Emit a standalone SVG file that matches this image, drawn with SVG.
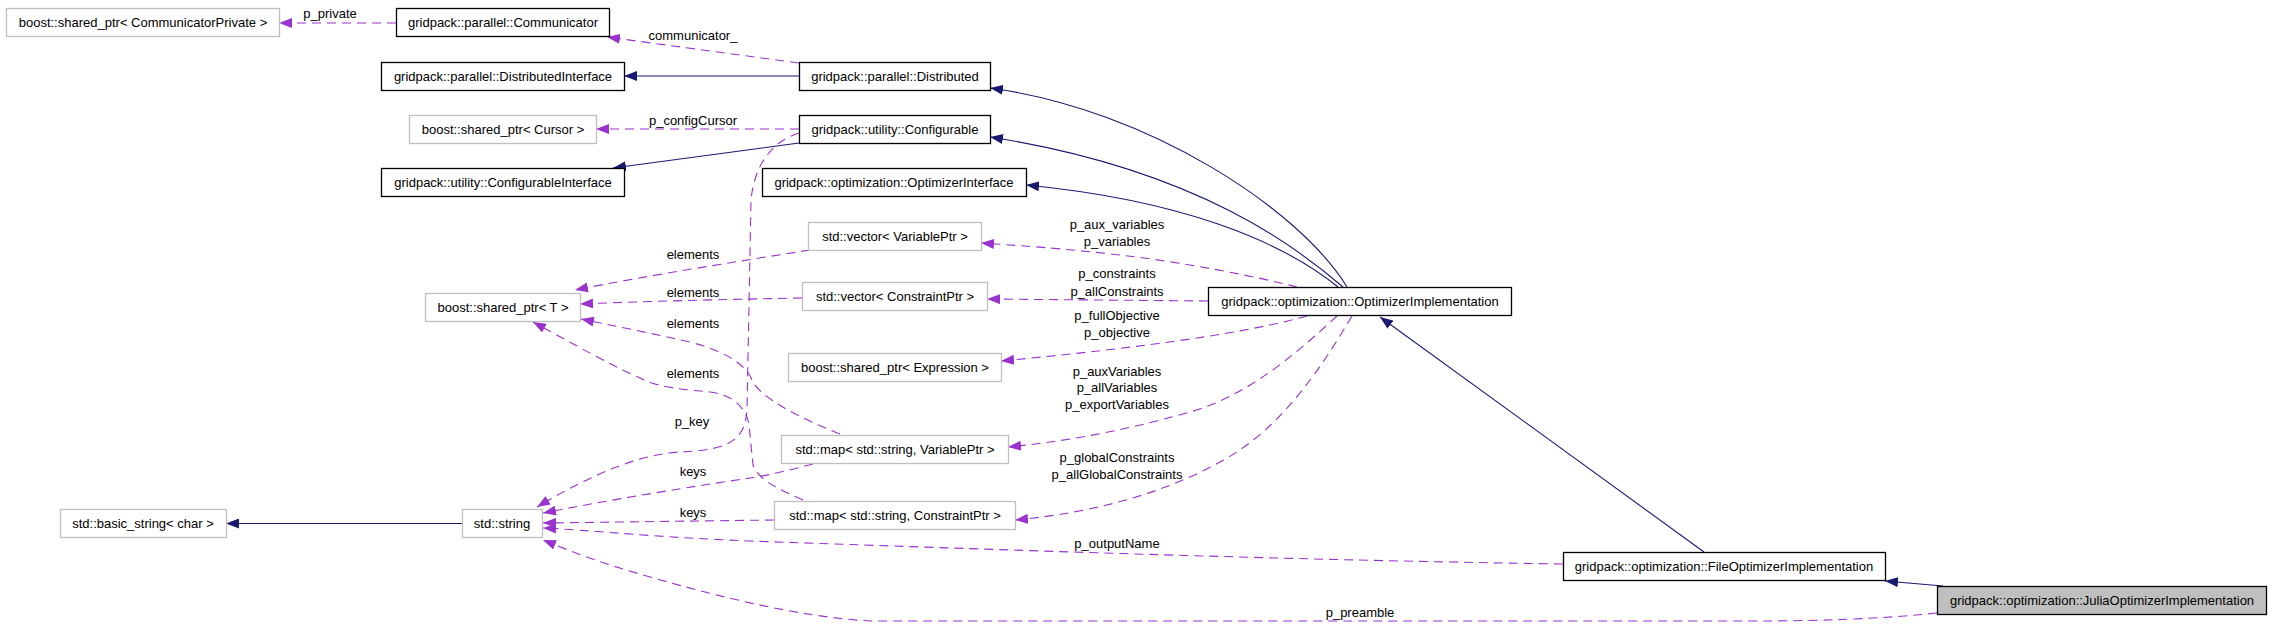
<svg xmlns="http://www.w3.org/2000/svg" width="2272" height="627" viewBox="0 0 2272 627">
<defs>
<marker id="ap" markerUnits="userSpaceOnUse" viewBox="0 0 13 10" refX="13" refY="5" markerWidth="13" markerHeight="10" orient="auto"><path d="M0,0 L13,5 L0,10 z" fill="#9a32cd"/></marker>
<marker id="ab" markerUnits="userSpaceOnUse" viewBox="0 0 13 10" refX="13" refY="5" markerWidth="13" markerHeight="10" orient="auto"><path d="M0,0 L13,5 L0,10 z" fill="#191970"/></marker>
</defs>
<style>
text{font-family:"Liberation Sans",Arial,sans-serif;font-size:13px;fill:#000;text-anchor:middle}
.g rect{fill:#fff;stroke:#bfbfbf;stroke-width:1.3}
.k rect{fill:#fff;stroke:#000;stroke-width:1.3}
.j rect{fill:#bfbfbf;stroke:#000;stroke-width:1.3}
.d{fill:none;stroke:#9a32cd;stroke-width:1.1;stroke-dasharray:9,6;marker-end:url(#ap)}
.s{fill:none;stroke:#191970;stroke-width:1.1;marker-end:url(#ab)}
</style>
<rect width="2272" height="627" fill="#fff"/>
<g id="edges">
<path class="d" d="M396,23 L279,23"/>
<path class="d" d="M799,63 L607,37"/>
<path class="d" d="M799,129 L596,129"/>
<path class="d" d="M799,133 C776,140 755,160 751,200 L747,410 C745,440 730,450 680,452 C640,454 590,475 537,507"/>
<path class="d" d="M810,250 C760,258 650,275 575,290"/>
<path class="d" d="M802,298 C750,299 650,301 580,304"/>
<path class="d" d="M840,434 C800,418 760,398 752,380 C745,362 720,350 690,342 C650,333 610,325 581,319"/>
<path class="d" d="M803,500 C780,490 758,480 753,465 L749,425 C747,410 735,395 710,392 C680,389 660,388 640,378 C610,365 570,342 533,322"/>
<path class="d" d="M813,464 C790,470 770,475 750,478 C690,487 620,498 543,513"/>
<path class="d" d="M774,520 L543,523"/>
<path class="d" d="M1563,564 C1300,560 1060,552 750,541 C650,537 590,530 543,528"/>
<path class="d" d="M1937,613 C1880,619 1820,621 1750,621 L870,621 C800,617 720,597 650,577 C600,563 570,551 543,540"/>
<path class="d" d="M1297,287 C1250,275 1180,262 1120,255 C1060,248 1010,245 981,243"/>
<path class="d" d="M1208,301 L987,299"/>
<path class="d" d="M1307,316 C1250,332 1150,347 1001,361"/>
<path class="d" d="M1337,316 C1300,350 1250,395 1190,412 C1120,432 1060,442 1008,447"/>
<path class="d" d="M1352,316 C1320,370 1280,430 1220,462 C1160,495 1090,513 1015,520"/>
<path class="s" d="M799,76 L624,76"/>
<path class="s" d="M799,143 L613,168"/>
<path class="s" d="M1347,287 C1300,210 1150,110 990,88"/>
<path class="s" d="M1343,287 C1300,250 1200,170 990,137"/>
<path class="s" d="M1338,287 C1280,240 1180,200 1026,185"/>
<path class="s" d="M1704,552 L1380,317"/>
<path class="s" d="M1943,586 L1885,581"/>
<path class="s" d="M462,523.5 L226,523.5"/>
<text x="330" y="18">p_private</text>
<text x="693" y="40">communicator_</text>
<text x="693" y="125">p_configCursor</text>
<text x="693" y="259">elements</text>
<text x="693" y="297">elements</text>
<text x="693" y="328">elements</text>
<text x="693" y="378">elements</text>
<text x="692" y="426">p_key</text>
<text x="693" y="476">keys</text>
<text x="693" y="517">keys</text>
<text x="1117" y="229">p_aux_variables</text>
<text x="1117" y="246">p_variables</text>
<text x="1117" y="278">p_constraints</text>
<text x="1117" y="296">p_allConstraints</text>
<text x="1117" y="320">p_fullObjective</text>
<text x="1117" y="337">p_objective</text>
<text x="1117" y="376">p_auxVariables</text>
<text x="1117" y="392">p_allVariables</text>
<text x="1117" y="409">p_exportVariables</text>
<text x="1117" y="462">p_globalConstraints</text>
<text x="1117" y="479">p_allGlobalConstraints</text>
<text x="1117" y="548">p_outputName</text>
<text x="1360" y="617">p_preamble</text>
</g>
<g id="n_commpriv" class="g"><rect x="6.5" y="8.5" width="273" height="28"/><text x="143" y="27">boost::shared_ptr&lt; CommunicatorPrivate &gt;</text></g>
<g id="n_communicator" class="k"><rect x="396.5" y="8.5" width="213" height="28"/><text x="503" y="27">gridpack::parallel::Communicator</text></g>
<g id="n_distiface" class="k"><rect x="381.5" y="62.5" width="243" height="28"/><text x="503" y="81">gridpack::parallel::DistributedInterface</text></g>
<g id="n_distributed" class="k"><rect x="799.5" y="62.5" width="191" height="28"/><text x="895" y="81">gridpack::parallel::Distributed</text></g>
<g id="n_cursor" class="g"><rect x="409.5" y="115.5" width="187" height="28"/><text x="503" y="134">boost::shared_ptr&lt; Cursor &gt;</text></g>
<g id="n_configurable" class="k"><rect x="799.5" y="115.5" width="191" height="28"/><text x="895" y="134">gridpack::utility::Configurable</text></g>
<g id="n_configiface" class="k"><rect x="381.5" y="168.5" width="243" height="28"/><text x="503" y="187">gridpack::utility::ConfigurableInterface</text></g>
<g id="n_optiface" class="k"><rect x="762.5" y="168.5" width="264" height="28"/><text x="894" y="187">gridpack::optimization::OptimizerInterface</text></g>
<g id="n_vecvar" class="g"><rect x="808.5" y="222.5" width="173" height="28"/><text x="895" y="241">std::vector&lt; VariablePtr &gt;</text></g>
<g id="n_sharedT" class="g"><rect x="425.5" y="293.5" width="155" height="28"/><text x="503" y="312">boost::shared_ptr&lt; T &gt;</text></g>
<g id="n_veccons" class="g"><rect x="802.5" y="282.5" width="185" height="28"/><text x="895" y="301">std::vector&lt; ConstraintPtr &gt;</text></g>
<g id="n_optimpl" class="k"><rect x="1208.5" y="287.5" width="303" height="28"/><text x="1360" y="306">gridpack::optimization::OptimizerImplementation</text></g>
<g id="n_expr" class="g"><rect x="788.5" y="353.5" width="213" height="28"/><text x="895" y="372">boost::shared_ptr&lt; Expression &gt;</text></g>
<g id="n_mapvar" class="g"><rect x="781.5" y="435.5" width="227" height="28"/><text x="895" y="454">std::map&lt; std::string, VariablePtr &gt;</text></g>
<g id="n_mapcons" class="g"><rect x="774.5" y="501.5" width="241" height="28"/><text x="895" y="520">std::map&lt; std::string, ConstraintPtr &gt;</text></g>
<g id="n_basicstr" class="g"><rect x="60.5" y="509.5" width="166" height="28"/><text x="143" y="528">std::basic_string&lt; char &gt;</text></g>
<g id="n_string" class="g"><rect x="462.5" y="509.5" width="80" height="28"/><text x="502" y="528">std::string</text></g>
<g id="n_fileopt" class="k"><rect x="1563.5" y="552.5" width="322" height="28"/><text x="1724" y="571">gridpack::optimization::FileOptimizerImplementation</text></g>
<g id="n_julia" class="j"><rect x="1937.5" y="586.5" width="329" height="28"/><text x="2102" y="605">gridpack::optimization::JuliaOptimizerImplementation</text></g>
</svg>
